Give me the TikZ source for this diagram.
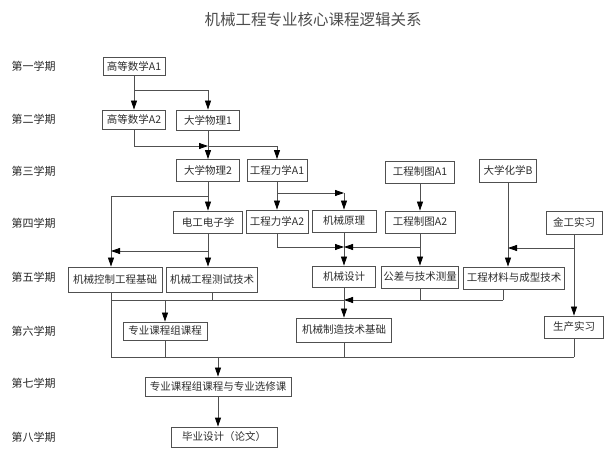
\documentclass[tikz,border=0pt]{standalone}
\usepackage{fontspec}
\setmainfont{Noto Sans CJK SC}
\usetikzlibrary{arrows.meta}
\definecolor{linegray}{RGB}{80,80,80}
\definecolor{textgray}{RGB}{45,45,45}
\tikzset{
  course/.style={draw=linegray, line width=0.8pt, minimum height=21, inner sep=2pt,
    text=textgray, font=\fontsize{10.5}{12}\selectfont},
  term/.style={anchor=west, text=black!85, font=\fontsize{11}{12}\selectfont},
}
\begin{document}
\begin{tikzpicture}[x=1pt, y=-1pt]
      \useasboundingbox (0,0) rectangle (616,462);
      \node[text=black!70, font=\fontsize{15.5}{17}\selectfont] (title) at (313,20) {机械工程专业核心课程逻辑关系};
      \path[every node/.style=term]
        (8,66) node (s1){第一学期}
        (8,119) node (s2){第二学期}
        (8,171) node (s3){第三学期}
        (8,223) node (s4){第四学期}
        (8,277) node (s5){第五学期}
        (8,331) node (s6){第六学期}
        (8,383) node (s7){第七学期}
        (8,437) node (s8){第八学期};
      \path[every node/.style=course]
        (134,66.5) node[minimum width=62, minimum height=18] (a1){高等数学A1}
        (134,119.5) node[minimum width=63, minimum height=19] (a2){高等数学A2}
        (208,120) node[minimum width=63, minimum height=20] (p1){大学物理1}
        (208,170.5) node[minimum width=63, minimum height=22] (p2){大学物理2}
        (277,170.5) node[minimum width=60, minimum height=22] (m1){工程力学A1}
        (420,172) node[minimum width=69, minimum height=22] (d1){工程制图A1}
        (508,170.5) node[minimum width=57, minimum height=23] (c){大学化学B}
        (208,222) node[minimum width=69, minimum height=22] (ee){电工电子学}
        (277,221.5) node[minimum width=62, minimum height=23] (m2){工程力学A2}
        (344,221) node[minimum width=64, minimum height=22] (mp){机械原理}
        (420,222) node[minimum width=70, minimum height=22] (d2){工程制图A2}
        (574,222.5) node[minimum width=56, minimum height=23] (jg){金工实习}
        (115,279.5) node[minimum width=94, minimum height=25] (ctl){机械控制工程基础}
        (212,279.5) node[minimum width=91, minimum height=25] (tst){机械工程测试技术}
        (344,276.5) node[minimum width=63, minimum height=21] (md){机械设计}
        (420,277) node[minimum width=75, minimum height=22] (tol){公差与技术测量}
        (514,278) node[minimum width=101, minimum height=22] (mat){工程材料与成型技术}
        (165,331) node[minimum width=84, minimum height=18] (grp){专业课程组课程}
        (344,330) node[minimum width=95, minimum height=24] (mfg){机械制造技术基础}
        (574,327) node[minimum width=59, minimum height=22] (prac){生产实习}
        (218,386.5) node[minimum width=146, minimum height=19] (elec){专业课程组课程与专业选修课}
        (224,437) node[minimum width=106, minimum height=20] (thesis){毕业设计（论文）};
      \coordinate (j1) at (134,90);
      \coordinate (j2) at (208,146);
      \coordinate (j3) at (208,196);
      \coordinate (k1) at (111,196);
      \coordinate (j4) at (208,251);
      \coordinate (j5) at (277,193);
      \coordinate (k5) at (344,193);
      \coordinate (k6) at (344,247);
      \coordinate (j6) at (420,247);
      \coordinate (j7) at (574,248);
      \coordinate (k7) at (508,248);
      \coordinate (h1) at (111,300);
      \coordinate (h2) at (344,300);
      \coordinate (h3) at (503,300);
      \coordinate (h4) at (165,300);
      \coordinate (l1) at (111,357);
      \coordinate (l2) at (218,357);
      \coordinate (l3) at (574,357);
      \begin{scope}[draw=linegray, line width=0.8pt, -{Triangle[length=9pt, width=6pt, color=black]}]
        \draw[-] (a1) to (j1);
        \draw (j1) to (a2);
        \draw (j1) -| (p1);
        \draw (a2) |- (j2);
        \draw (p1) to (p2);
        \draw (j2) -| (m1);
        \draw (p2) to (ee);
        \draw[-] (j3) to (k1);
        \draw (k1) to (k1 |- ctl.north);
        \draw (ee) to (ee |- tst.north);
        \draw (j4) to (k1 |- j4);
        \draw (m1) to (m2);
        \draw (j5) to (k5);
        \draw (k5) to (mp);
        \draw (m2) |- (k6);
        \draw (mp) to (md);
        \draw (d1) to (d2);
        \draw (d2) to (tol);
        \draw (j6) to (k6);
        \draw (c) to (c |- mat.north);
        \draw (jg) to (prac);
        \draw (j7) to (k7);
        \draw[-] (tol) to (tol |- h3);
        \draw[-] (mat.south -| h3) to (h3);
        \draw (h3) to (h2);
        \draw[-] (h2) to (h1);
        \draw[-] (tst) to (tst |- h1);
        \draw (h4) to (grp);
        \draw (md) to (mfg);
        \draw[-] (ctl.south -| k1) to (l1);
        \draw[-] (l1) to (l3);
        \draw[-] (grp) to (grp |- l1);
        \draw[-] (mfg) to (mfg |- l1);
        \draw[-] (prac) to (l3);
        \draw (l2) to (elec);
        \draw (elec) to (elec |- thesis.north);
      \end{scope}
    \end{tikzpicture}
\end{document}
